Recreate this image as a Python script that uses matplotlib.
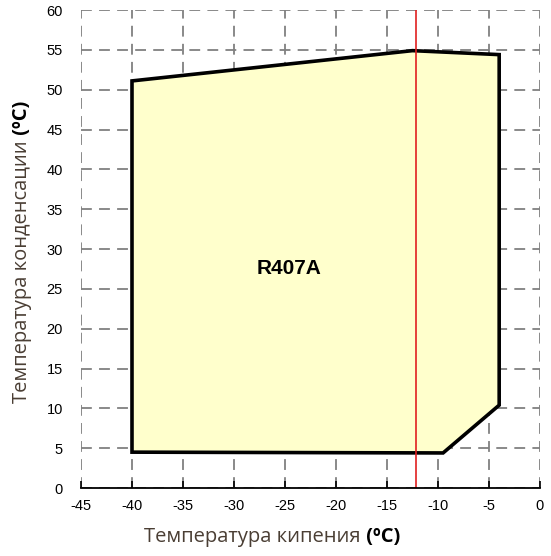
import matplotlib.pyplot as plt

# operating envelope for R407A (evaporating vs condensing temperature)
t_evap = [-40, -40, -12.5, -4, -4, -9.5]
t_cond = [4.5, 51.1, 54.9, 54.4, 10.4, 4.4]
t_limit = -12.2

x_ticks = list(range(-45, 1, 5))
y_ticks = list(range(0, 61, 5))

plt.rcParams['font.family'] = ['Liberation Sans', 'DejaVu Sans']

fig = plt.figure(figsize=(5.51, 5.56), dpi=100)
ax = fig.add_axes([0.147, 0.1223, 0.833, 0.8597])

ax.fill(t_evap, t_cond, facecolor='#ffffcc', edgecolor='black', linewidth=2.6,
        joinstyle='miter', zorder=2)
ax.axvline(t_limit, color='#e02020', linewidth=1.2, zorder=3)
ax.text(-24.6, 27.6, 'R407A', fontsize=15, fontweight='bold',
        ha='center', va='center', zorder=4)

ax.set_xlim(-45, 0)
ax.set_ylim(0, 60)
ax.set_xticks(x_ticks)
ax.set_yticks(y_ticks)
ax.set_xticklabels([str(v) for v in x_ticks], fontsize=10.5)
ax.set_yticklabels([str(v) for v in y_ticks], fontsize=10.5)
ax.tick_params(axis='x', direction='in', length=5, width=1.2, color='black', pad=8)
ax.tick_params(axis='y', length=0, pad=13)

ax.grid(True, color='#808080', linestyle=(0, (6, 4)), linewidth=1.3, zorder=1)
ax.set_axisbelow(True)
for side in ['left', 'top', 'right']:
    ax.spines[side].set_visible(False)
ax.spines['bottom'].set_linewidth(1.3)
ax.spines['bottom'].set_zorder(5)

# axis titles: plain text plus a bold unit
lab_font = ['Open Sans', 'DejaVu Sans']
lab_color = '#4a3e34'
lab_size = 14.5
xl = fig.text(0.458, 0.034, 'Температура кипения', fontsize=lab_size, color=lab_color,
              ha='center', va='center', family=lab_font)
ax.annotate(' (ºC)', xy=(1, 0), xycoords=xl, fontsize=lab_size, fontweight='bold',
            ha='left', va='bottom', family=lab_font)
yl = fig.text(0.04, 0.512, 'Температура конденсации', fontsize=lab_size, color=lab_color,
              ha='center', va='center', rotation=90, family=lab_font)
ax.annotate(' (ºC)', xy=(0, 1), xycoords=yl, fontsize=lab_size, fontweight='bold',
            ha='left', va='bottom', rotation=90, family=lab_font)

fig.savefig('out.png', dpi=100)
